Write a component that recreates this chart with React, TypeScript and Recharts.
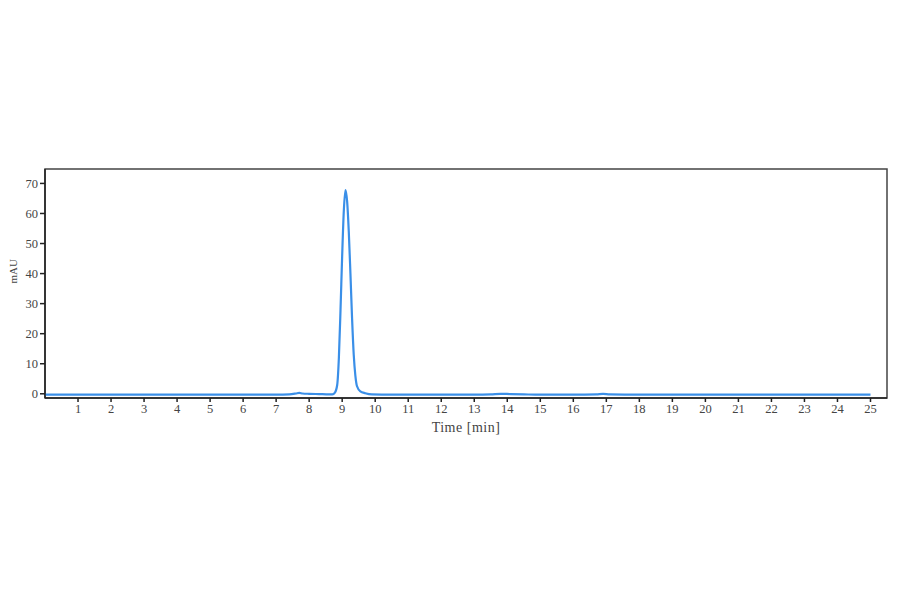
import React from "react";
import { Line, LineChart, ReferenceArea, XAxis, YAxis } from "recharts";

// retention times (min) and absorbance (mAU)
const times = [
  0, 1, 2, 3, 4, 5, 6, 7, 7.4, 7.6, 7.7, 7.8, 8.0, 8.3, 8.6, 8.7,
  8.78, 8.85, 8.9, 8.95, 9.0, 9.05, 9.1, 9.15, 9.2, 9.25, 9.3, 9.35, 9.4, 9.45,
  9.55, 9.7, 9.9, 10.5, 11, 12, 13, 13.5, 13.8, 14.1, 14.5, 15, 16, 16.7, 16.9,
  17.1, 18, 19, 20, 21, 22, 23, 24, 25,
];
const absorbance = [
  -0.3, -0.3, -0.3, -0.3, -0.3, -0.3, -0.3, -0.3, -0.2, 0.1, 0.3, 0.1, 0, -0.1, -0.2, -0.2,
  0.4, 3, 12, 28, 46, 61, 67.8, 64, 54, 40, 25, 13, 6, 2.5,
  0.8, 0.2, -0.2, -0.3, -0.3, -0.3, -0.3, -0.2, 0, -0.1, -0.2, -0.3, -0.3, -0.2, 0,
  -0.2, -0.3, -0.3, -0.3, -0.3, -0.3, -0.3, -0.3, -0.3,
];
const xTicks = [1, 2, 3, 4, 5, 6, 7, 8, 9, 10, 11, 12, 13, 14, 15, 16, 17, 18, 19, 20, 21, 22, 23, 24, 25];
const yTicks = [0, 10, 20, 30, 40, 50, 60, 70];

const data = times.map((t, i) => ({ time: t, mAU: absorbance[i] }));

const font = { fontFamily: "'Liberation Serif', serif", fontSize: 12.5, fill: "#444" };

export default function App() {
  return (
    <div style={{ width: 884, height: 578 }}>
      <LineChart
        width={884}
        height={578}
        data={data}
        margin={{ top: 161, right: 5, left: 0, bottom: 148 }}
      >
        <XAxis
          dataKey="time"
          type="number"
          domain={[0, 25.5]}
          ticks={xTicks}
          allowDataOverflow
          height={40}
          tick={font}
          tickSize={4}
          stroke="#222"
          strokeWidth={1.5}
          label={{ value: "Time [min]", position: "insideBottom", offset: 6, style: { ...font, fontSize: 14, letterSpacing: 0.5 } }}
        />
        <YAxis
          type="number"
          domain={[-1.4, 74.8]}
          ticks={yTicks}
          allowDataOverflow
          width={37}
          tick={font}
          tickSize={5}
          stroke="#222"
          strokeWidth={1.5}
          label={{ value: "mAU", angle: -90, position: "insideLeft", offset: 0, dx: 5, style: { ...font, fontSize: 11 } }}
        />
        <ReferenceArea
          x1={0}
          x2={25.5}
          y1={-1.4}
          y2={74.8}
          fill="none"
          stroke="#444"
          strokeWidth={1.5}
          ifOverflow="visible"
        />
        <Line
          dataKey="mAU"
          type="monotone"
          stroke="#3a8fe8"
          strokeWidth={2.2}
          dot={false}
          isAnimationActive={false}
        />
      </LineChart>
    </div>
  );
}
